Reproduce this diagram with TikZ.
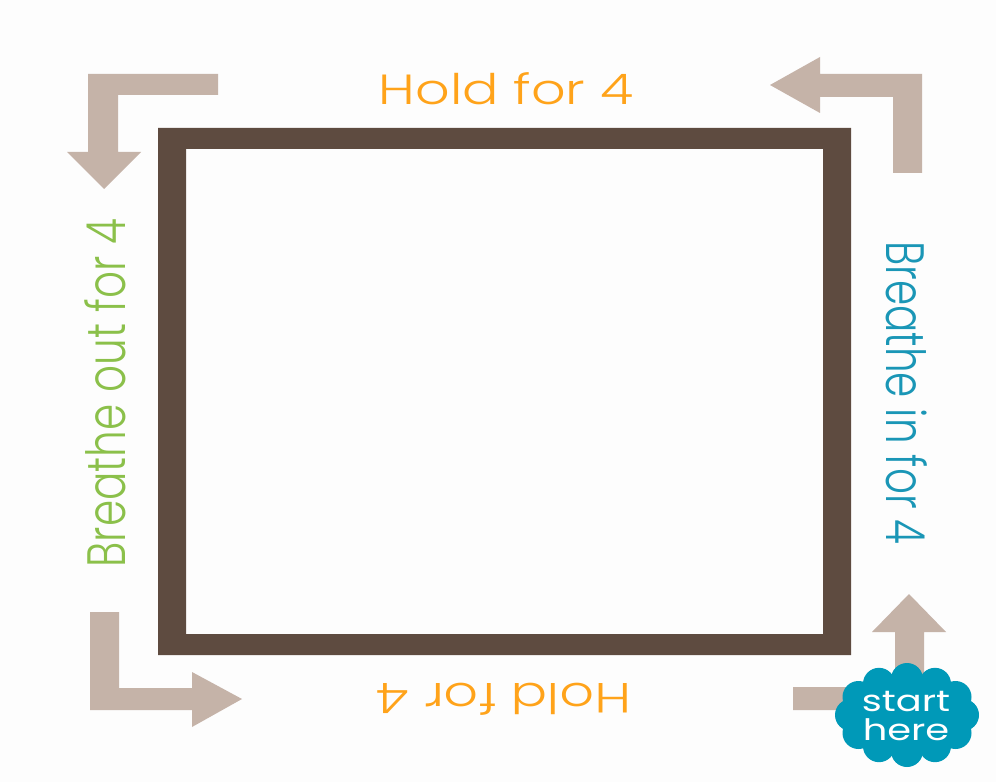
\documentclass[tikz,border=0pt]{standalone}
\usepackage{fontspec}
\setmainfont{Poppins}[UprightFont=* Light]
\newfontfamily\badgefont{Poppins}
\definecolor{framebrown}{RGB}{94,75,64}
\definecolor{arrowtan}{RGB}{197,179,168}
\definecolor{holdorange}{RGB}{255,163,26}
\definecolor{outgreen}{RGB}{139,192,74}
\definecolor{inteal}{RGB}{26,150,182}
\definecolor{cloudteal}{RGB}{0,153,184}
\definecolor{paper}{RGB}{253,253,253}

\begin{document}
\begin{tikzpicture}[x=0.025cm,y=-0.025cm,
  cue/.style={inner sep=0pt,font=\fontsize{30}{30}\selectfont},
  elbow/.style={fill=arrowtan}]
  \fill[paper] (0,0) rectangle (996,782);
  \useasboundingbox (0,0) rectangle (996,782);
  % the box
  \fill[framebrown,even odd rule] (158,128) rectangle (851,655) (186,149) rectangle (823,634);
  % corner arrows
  \fill[elbow] (218,74) -- (88,74) -- (88,152) -- (67,152) -- (104,189) -- (141,152)
    -- (118,152) -- (118,95) -- (218,95) -- cycle;
  \fill[elbow] (922,173) -- (922,74) -- (820,74) -- (820,57) -- (770,85) -- (820,113)
    -- (820,97) -- (893,97) -- (893,173) -- cycle;
  \fill[elbow] (90,612) -- (90,710) -- (192,710) -- (192,727) -- (242,699) -- (192,672)
    -- (192,688) -- (119,688) -- (119,612) -- cycle;
  \fill[elbow] (793,687) -- (895,687) -- (895,632) -- (872,632) -- (909,594) -- (946,632)
    -- (924,632) -- (924,710) -- (793,710) -- cycle;
  % labels
  \node[cue,holdorange,xscale=1.28] (holdtop) at (506,89) {Hold for 4};
  \node[cue,holdorange,rotate=180,xscale=1.28] (holdbot) at (504,699) {Hold for 4};
  \node[cue,outgreen,rotate=90,yscale=1.28] (out) at (105,393) {Breathe out for 4};
  \node[cue,inteal,rotate=-90,yscale=1.28,xscale=0.96] (in) at (907,393) {Breathe in for 4};
  % start badge
  \fill[cloudteal] (907,715) ellipse [x radius=56, y radius=38];
  \foreach \a in {0,30,...,330}
    \fill[cloudteal] (907,715) ++(\a:56 and 36) circle (16);
  \node[align=center,white,inner sep=0pt,xscale=1.3,
    font=\badgefont\fontsize{21}{20}\selectfont] (start) at (906,716) {start\\here};
\end{tikzpicture}
\end{document}
